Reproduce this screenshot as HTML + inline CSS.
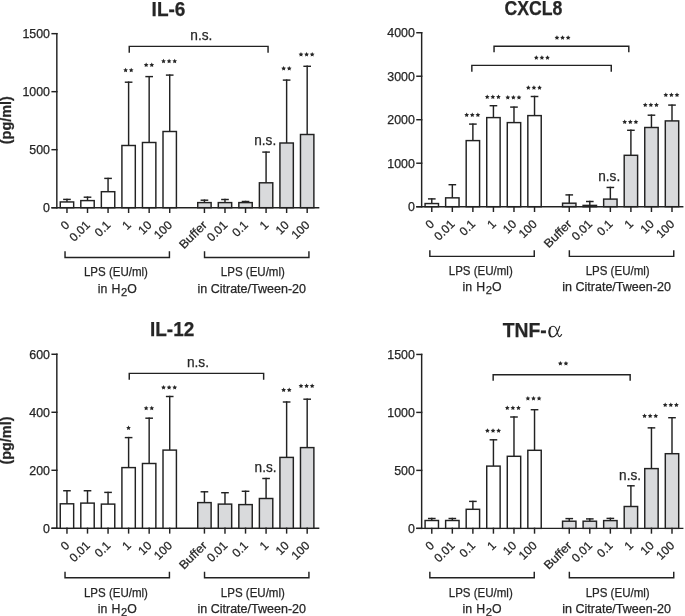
<!DOCTYPE html>
<html><head><meta charset="utf-8"><style>
html,body{margin:0;padding:0;background:#fff;}
svg{display:block;will-change:transform;}
text{font-family:"Liberation Sans", sans-serif;fill:#262626;stroke:#262626;stroke-width:0.25px;}
</style></head><body>
<svg width="685" height="616" viewBox="0 0 685 616">
<rect width="685" height="616" fill="#fff"/>
<text x="168.5" y="16.1" font-size="20" text-anchor="middle" font-weight="bold" textLength="33.8" lengthAdjust="spacingAndGlyphs">IL-6</text>
<text x="0" y="0" font-size="13.8" font-weight="bold" text-anchor="middle" textLength="48" lengthAdjust="spacingAndGlyphs" transform="translate(11.2,120.2) rotate(-90)">(pg/ml)</text>
<text x="50.03" y="212.2" font-size="12.2" text-anchor="end" textLength="6.9" lengthAdjust="spacingAndGlyphs">0</text>
<text x="50.03" y="154.19" font-size="12.2" text-anchor="end" textLength="20.7" lengthAdjust="spacingAndGlyphs">500</text>
<text x="50.03" y="96.17" font-size="12.2" text-anchor="end" textLength="27.6" lengthAdjust="spacingAndGlyphs">1000</text>
<text x="50.03" y="38.16" font-size="12.2" text-anchor="end" textLength="27.6" lengthAdjust="spacingAndGlyphs">1500</text>
<text x="0" y="0" font-size="12" text-anchor="end" transform="translate(70.16,225.7) rotate(-45)">0</text>
<text x="0" y="0" font-size="12" text-anchor="end" transform="translate(90.71,225.7) rotate(-45)">0.01</text>
<text x="0" y="0" font-size="12" text-anchor="end" transform="translate(111.26,225.7) rotate(-45)">0.1</text>
<text x="0" y="0" font-size="12" text-anchor="end" transform="translate(131.81,225.7) rotate(-45)">1</text>
<text x="0" y="0" font-size="12" text-anchor="end" transform="translate(152.36,225.7) rotate(-45)">10</text>
<text x="0" y="0" font-size="12" text-anchor="end" transform="translate(172.91,225.7) rotate(-45)">100</text>
<text x="0" y="0" font-size="12" text-anchor="end" textLength="33.6" lengthAdjust="spacingAndGlyphs" transform="translate(207.63,225.7) rotate(-45)">Buffer</text>
<text x="0" y="0" font-size="12" text-anchor="end" transform="translate(228.18,225.7) rotate(-45)">0.01</text>
<text x="0" y="0" font-size="12" text-anchor="end" transform="translate(248.73,225.7) rotate(-45)">0.1</text>
<text x="0" y="0" font-size="12" text-anchor="end" transform="translate(269.28,225.7) rotate(-45)">1</text>
<text x="0" y="0" font-size="12" text-anchor="end" transform="translate(289.83,225.7) rotate(-45)">10</text>
<text x="0" y="0" font-size="12" text-anchor="end" transform="translate(310.38,225.7) rotate(-45)">100</text>
<text x="254.3" y="144.7" font-size="13.8" textLength="21.9" lengthAdjust="spacingAndGlyphs">n.s.</text>
<text x="201.4" y="39.7" font-size="14" text-anchor="middle" textLength="22.1" lengthAdjust="spacingAndGlyphs">n.s.</text>
<text x="115.93" y="276.2" font-size="12.3" text-anchor="middle" textLength="64" lengthAdjust="spacingAndGlyphs">LPS (EU/ml)</text>
<text x="97.78" y="292.5" font-size="12.3">in</text>
<text x="111.43" y="292.5" font-size="12.3">H</text>
<text x="120.93" y="295.5" font-size="11.2">2</text>
<text x="127.23" y="292.5" font-size="12.3">O</text>
<text x="252.83" y="276.2" font-size="12.3" text-anchor="middle" textLength="64" lengthAdjust="spacingAndGlyphs">LPS (EU/ml)</text>
<text x="251.73" y="292.5" font-size="12.3" text-anchor="middle" textLength="108.6" lengthAdjust="spacingAndGlyphs">in Citrate/Tween-20</text>
<g stroke="#222222" stroke-width="1.45" fill="none" stroke-linecap="square">
<line x1="56.83" y1="33.66" x2="56.83" y2="207.7"/>
<line x1="52.13" y1="207.7" x2="56.83" y2="207.7"/>
<line x1="52.13" y1="149.69" x2="56.83" y2="149.69"/>
<line x1="52.13" y1="91.67" x2="56.83" y2="91.67"/>
<line x1="52.13" y1="33.66" x2="56.83" y2="33.66"/>
<line x1="52.13" y1="207.7" x2="318.6" y2="207.7"/>
<line x1="66.96" y1="199.4" x2="66.96" y2="201.95"/>
<line x1="63.86" y1="199.4" x2="70.06" y2="199.4"/>
<rect x="60.26" y="201.95" width="13.4" height="5.75" fill="#ffffff"/>
<line x1="66.96" y1="207.7" x2="66.96" y2="212.3"/>
<line x1="87.51" y1="197.2" x2="87.51" y2="200.6"/>
<line x1="84.41" y1="197.2" x2="90.61" y2="197.2"/>
<rect x="80.81" y="200.6" width="13.4" height="7.1" fill="#ffffff"/>
<line x1="87.51" y1="207.7" x2="87.51" y2="212.3"/>
<line x1="108.06" y1="178.4" x2="108.06" y2="191.7"/>
<line x1="104.96" y1="178.4" x2="111.16" y2="178.4"/>
<rect x="101.36" y="191.7" width="13.4" height="16" fill="#ffffff"/>
<line x1="108.06" y1="207.7" x2="108.06" y2="212.3"/>
<line x1="128.61" y1="82.2" x2="128.61" y2="145.5"/>
<line x1="125.51" y1="82.2" x2="131.71" y2="82.2"/>
<rect x="121.91" y="145.5" width="13.4" height="62.2" fill="#ffffff"/>
<line x1="128.61" y1="207.7" x2="128.61" y2="212.3"/>
<line x1="149.16" y1="76.6" x2="149.16" y2="142.5"/>
<line x1="146.06" y1="76.6" x2="152.26" y2="76.6"/>
<rect x="142.46" y="142.5" width="13.4" height="65.2" fill="#ffffff"/>
<line x1="149.16" y1="207.7" x2="149.16" y2="212.3"/>
<line x1="169.71" y1="75.1" x2="169.71" y2="131.5"/>
<line x1="166.61" y1="75.1" x2="172.81" y2="75.1"/>
<rect x="163.01" y="131.5" width="13.4" height="76.2" fill="#ffffff"/>
<line x1="169.71" y1="207.7" x2="169.71" y2="212.3"/>
<line x1="204.43" y1="200.2" x2="204.43" y2="202.6"/>
<line x1="201.33" y1="200.2" x2="207.53" y2="200.2"/>
<rect x="197.73" y="202.6" width="13.4" height="5.1" fill="#d9dadc"/>
<line x1="204.43" y1="207.7" x2="204.43" y2="212.3"/>
<line x1="224.98" y1="199.5" x2="224.98" y2="202.6"/>
<line x1="221.88" y1="199.5" x2="228.08" y2="199.5"/>
<rect x="218.28" y="202.6" width="13.4" height="5.1" fill="#d9dadc"/>
<line x1="224.98" y1="207.7" x2="224.98" y2="212.3"/>
<line x1="245.53" y1="201.5" x2="245.53" y2="202.6"/>
<line x1="242.43" y1="201.5" x2="248.63" y2="201.5"/>
<rect x="238.83" y="202.6" width="13.4" height="5.1" fill="#d9dadc"/>
<line x1="245.53" y1="207.7" x2="245.53" y2="212.3"/>
<line x1="266.08" y1="152.1" x2="266.08" y2="182.8"/>
<line x1="262.98" y1="152.1" x2="269.18" y2="152.1"/>
<rect x="259.38" y="182.8" width="13.4" height="24.9" fill="#d9dadc"/>
<line x1="266.08" y1="207.7" x2="266.08" y2="212.3"/>
<line x1="286.63" y1="80.1" x2="286.63" y2="143"/>
<line x1="283.53" y1="80.1" x2="289.73" y2="80.1"/>
<rect x="279.93" y="143" width="13.4" height="64.7" fill="#d9dadc"/>
<line x1="286.63" y1="207.7" x2="286.63" y2="212.3"/>
<line x1="307.18" y1="66.3" x2="307.18" y2="134.5"/>
<line x1="304.08" y1="66.3" x2="310.28" y2="66.3"/>
<rect x="300.48" y="134.5" width="13.4" height="73.2" fill="#d9dadc"/>
<line x1="307.18" y1="207.7" x2="307.18" y2="212.3"/>
<polyline points="129.25,52.1 129.25,46.38 268.06,46.38 268.06,52.1" fill="none"/>
<polyline points="65.03,252 65.03,257.4 169.43,257.4 169.43,252" fill="none"/>
<polyline points="204.53,252 204.53,257.4 308.93,257.4 308.93,252" fill="none"/>
</g>
<g fill="#262626">
<polygon points="125.61,67.7 126.34,69.19 127.99,69.43 126.8,70.59 127.08,72.22 125.61,71.45 124.14,72.22 124.42,70.59 123.23,69.43 124.88,69.19"/>
<polygon points="131.21,67.7 131.94,69.19 133.59,69.43 132.4,70.59 132.68,72.22 131.21,71.45 129.74,72.22 130.02,70.59 128.83,69.43 130.48,69.19"/>
<polygon points="146.16,62.6 146.89,64.09 148.54,64.33 147.35,65.49 147.63,67.12 146.16,66.35 144.69,67.12 144.97,65.49 143.78,64.33 145.43,64.09"/>
<polygon points="151.76,62.6 152.49,64.09 154.14,64.33 152.95,65.49 153.23,67.12 151.76,66.35 150.29,67.12 150.57,65.49 149.38,64.33 151.03,64.09"/>
<polygon points="163.51,58.7 164.24,60.19 165.89,60.43 164.7,61.59 164.98,63.22 163.51,62.45 162.04,63.22 162.32,61.59 161.13,60.43 162.78,60.19"/>
<polygon points="169.11,58.7 169.84,60.19 171.49,60.43 170.3,61.59 170.58,63.22 169.11,62.45 167.64,63.22 167.92,61.59 166.73,60.43 168.38,60.19"/>
<polygon points="174.71,58.7 175.44,60.19 177.09,60.43 175.9,61.59 176.18,63.22 174.71,62.45 173.24,63.22 173.52,61.59 172.33,60.43 173.98,60.19"/>
<polygon points="283.63,66.1 284.36,67.59 286.01,67.83 284.82,68.99 285.1,70.62 283.63,69.85 282.16,70.62 282.44,68.99 281.25,67.83 282.9,67.59"/>
<polygon points="289.23,66.1 289.96,67.59 291.61,67.83 290.42,68.99 290.7,70.62 289.23,69.85 287.76,70.62 288.04,68.99 286.85,67.83 288.5,67.59"/>
<polygon points="300.98,52 301.71,53.49 303.36,53.73 302.17,54.89 302.45,56.52 300.98,55.75 299.51,56.52 299.79,54.89 298.6,53.73 300.25,53.49"/>
<polygon points="306.58,52 307.31,53.49 308.96,53.73 307.77,54.89 308.05,56.52 306.58,55.75 305.11,56.52 305.39,54.89 304.2,53.73 305.85,53.49"/>
<polygon points="312.18,52 312.91,53.49 314.56,53.73 313.37,54.89 313.65,56.52 312.18,55.75 310.71,56.52 310.99,54.89 309.8,53.73 311.45,53.49"/>
</g>
<text x="533.45" y="15" font-size="20" text-anchor="middle" font-weight="bold" textLength="57.9" lengthAdjust="spacingAndGlyphs">CXCL8</text>
<text x="414.85" y="211.2" font-size="12.2" text-anchor="end" textLength="6.9" lengthAdjust="spacingAndGlyphs">0</text>
<text x="414.85" y="167.71" font-size="12.2" text-anchor="end" textLength="27.6" lengthAdjust="spacingAndGlyphs">1000</text>
<text x="414.85" y="124.22" font-size="12.2" text-anchor="end" textLength="27.6" lengthAdjust="spacingAndGlyphs">2000</text>
<text x="414.85" y="80.73" font-size="12.2" text-anchor="end" textLength="27.6" lengthAdjust="spacingAndGlyphs">3000</text>
<text x="414.85" y="37.24" font-size="12.2" text-anchor="end" textLength="27.6" lengthAdjust="spacingAndGlyphs">4000</text>
<text x="0" y="0" font-size="12" text-anchor="end" transform="translate(434.98,224.7) rotate(-45)">0</text>
<text x="0" y="0" font-size="12" text-anchor="end" transform="translate(455.53,224.7) rotate(-45)">0.01</text>
<text x="0" y="0" font-size="12" text-anchor="end" transform="translate(476.08,224.7) rotate(-45)">0.1</text>
<text x="0" y="0" font-size="12" text-anchor="end" transform="translate(496.63,224.7) rotate(-45)">1</text>
<text x="0" y="0" font-size="12" text-anchor="end" transform="translate(517.18,224.7) rotate(-45)">10</text>
<text x="0" y="0" font-size="12" text-anchor="end" transform="translate(537.73,224.7) rotate(-45)">100</text>
<text x="0" y="0" font-size="12" text-anchor="end" textLength="33.6" lengthAdjust="spacingAndGlyphs" transform="translate(572.45,224.7) rotate(-45)">Buffer</text>
<text x="0" y="0" font-size="12" text-anchor="end" transform="translate(593,224.7) rotate(-45)">0.01</text>
<text x="0" y="0" font-size="12" text-anchor="end" transform="translate(613.55,224.7) rotate(-45)">0.1</text>
<text x="0" y="0" font-size="12" text-anchor="end" transform="translate(634.1,224.7) rotate(-45)">1</text>
<text x="0" y="0" font-size="12" text-anchor="end" transform="translate(654.65,224.7) rotate(-45)">10</text>
<text x="0" y="0" font-size="12" text-anchor="end" transform="translate(675.2,224.7) rotate(-45)">100</text>
<text x="598.3" y="180.7" font-size="13.8" textLength="21.9" lengthAdjust="spacingAndGlyphs">n.s.</text>
<text x="480.75" y="275.16" font-size="12.3" text-anchor="middle" textLength="64" lengthAdjust="spacingAndGlyphs">LPS (EU/ml)</text>
<text x="462.6" y="291.46" font-size="12.3">in</text>
<text x="476.25" y="291.46" font-size="12.3">H</text>
<text x="485.75" y="294.46" font-size="11.2">2</text>
<text x="492.05" y="291.46" font-size="12.3">O</text>
<text x="617.65" y="275.16" font-size="12.3" text-anchor="middle" textLength="64" lengthAdjust="spacingAndGlyphs">LPS (EU/ml)</text>
<text x="616.55" y="291.46" font-size="12.3" text-anchor="middle" textLength="108.6" lengthAdjust="spacingAndGlyphs">in Citrate/Tween-20</text>
<g stroke="#222222" stroke-width="1.45" fill="none" stroke-linecap="square">
<line x1="421.65" y1="32.74" x2="421.65" y2="206.7"/>
<line x1="416.95" y1="206.7" x2="421.65" y2="206.7"/>
<line x1="416.95" y1="163.21" x2="421.65" y2="163.21"/>
<line x1="416.95" y1="119.72" x2="421.65" y2="119.72"/>
<line x1="416.95" y1="76.23" x2="421.65" y2="76.23"/>
<line x1="416.95" y1="32.74" x2="421.65" y2="32.74"/>
<line x1="416.95" y1="206.7" x2="682.7" y2="206.7"/>
<line x1="431.78" y1="198.9" x2="431.78" y2="203.55"/>
<line x1="428.68" y1="198.9" x2="434.88" y2="198.9"/>
<rect x="425.08" y="203.55" width="13.4" height="3.15" fill="#ffffff"/>
<line x1="431.78" y1="206.7" x2="431.78" y2="211.3"/>
<line x1="452.33" y1="184.7" x2="452.33" y2="197.85"/>
<line x1="449.23" y1="184.7" x2="455.43" y2="184.7"/>
<rect x="445.63" y="197.85" width="13.4" height="8.85" fill="#ffffff"/>
<line x1="452.33" y1="206.7" x2="452.33" y2="211.3"/>
<line x1="472.88" y1="124.1" x2="472.88" y2="140.6"/>
<line x1="469.78" y1="124.1" x2="475.98" y2="124.1"/>
<rect x="466.18" y="140.6" width="13.4" height="66.1" fill="#ffffff"/>
<line x1="472.88" y1="206.7" x2="472.88" y2="211.3"/>
<line x1="493.43" y1="105.7" x2="493.43" y2="117.6"/>
<line x1="490.33" y1="105.7" x2="496.53" y2="105.7"/>
<rect x="486.73" y="117.6" width="13.4" height="89.1" fill="#ffffff"/>
<line x1="493.43" y1="206.7" x2="493.43" y2="211.3"/>
<line x1="513.98" y1="107.1" x2="513.98" y2="122.6"/>
<line x1="510.88" y1="107.1" x2="517.08" y2="107.1"/>
<rect x="507.28" y="122.6" width="13.4" height="84.1" fill="#ffffff"/>
<line x1="513.98" y1="206.7" x2="513.98" y2="211.3"/>
<line x1="534.53" y1="96.5" x2="534.53" y2="115.6"/>
<line x1="531.43" y1="96.5" x2="537.63" y2="96.5"/>
<rect x="527.83" y="115.6" width="13.4" height="91.1" fill="#ffffff"/>
<line x1="534.53" y1="206.7" x2="534.53" y2="211.3"/>
<line x1="569.25" y1="194.9" x2="569.25" y2="203.2"/>
<line x1="566.15" y1="194.9" x2="572.35" y2="194.9"/>
<rect x="562.55" y="203.2" width="13.4" height="3.5" fill="#d9dadc"/>
<line x1="569.25" y1="206.7" x2="569.25" y2="211.3"/>
<line x1="589.8" y1="201.5" x2="589.8" y2="205.4"/>
<line x1="586.7" y1="201.5" x2="592.9" y2="201.5"/>
<rect x="583.1" y="205.4" width="13.4" height="1.3" fill="#d9dadc"/>
<line x1="589.8" y1="206.7" x2="589.8" y2="211.3"/>
<line x1="610.35" y1="187.45" x2="610.35" y2="199.1"/>
<line x1="607.25" y1="187.45" x2="613.45" y2="187.45"/>
<rect x="603.65" y="199.1" width="13.4" height="7.6" fill="#d9dadc"/>
<line x1="610.35" y1="206.7" x2="610.35" y2="211.3"/>
<line x1="630.9" y1="130.3" x2="630.9" y2="155.3"/>
<line x1="627.8" y1="130.3" x2="634" y2="130.3"/>
<rect x="624.2" y="155.3" width="13.4" height="51.4" fill="#d9dadc"/>
<line x1="630.9" y1="206.7" x2="630.9" y2="211.3"/>
<line x1="651.45" y1="115.2" x2="651.45" y2="127.5"/>
<line x1="648.35" y1="115.2" x2="654.55" y2="115.2"/>
<rect x="644.75" y="127.5" width="13.4" height="79.2" fill="#d9dadc"/>
<line x1="651.45" y1="206.7" x2="651.45" y2="211.3"/>
<line x1="672" y1="105.1" x2="672" y2="120.9"/>
<line x1="668.9" y1="105.1" x2="675.1" y2="105.1"/>
<rect x="665.3" y="120.9" width="13.4" height="85.8" fill="#d9dadc"/>
<line x1="672" y1="206.7" x2="672" y2="211.3"/>
<polyline points="494.05,51.45 494.05,46.2 628.8,46.2 628.8,51.45" fill="none"/>
<polyline points="471.84,71.06 471.84,65.35 611.26,65.35 611.26,71.06" fill="none"/>
<polyline points="429.85,250.96 429.85,256.36 534.25,256.36 534.25,250.96" fill="none"/>
<polyline points="569.35,250.96 569.35,256.36 673.75,256.36 673.75,250.96" fill="none"/>
</g>
<g fill="#262626">
<polygon points="466.68,112.6 467.41,114.09 469.06,114.33 467.87,115.49 468.15,117.12 466.68,116.35 465.21,117.12 465.49,115.49 464.3,114.33 465.95,114.09"/>
<polygon points="472.28,112.6 473.01,114.09 474.66,114.33 473.47,115.49 473.75,117.12 472.28,116.35 470.81,117.12 471.09,115.49 469.9,114.33 471.55,114.09"/>
<polygon points="477.88,112.6 478.61,114.09 480.26,114.33 479.07,115.49 479.35,117.12 477.88,116.35 476.41,117.12 476.69,115.49 475.5,114.33 477.15,114.09"/>
<polygon points="487.23,94.4 487.96,95.89 489.61,96.13 488.42,97.29 488.7,98.92 487.23,98.15 485.76,98.92 486.04,97.29 484.85,96.13 486.5,95.89"/>
<polygon points="492.83,94.4 493.56,95.89 495.21,96.13 494.02,97.29 494.3,98.92 492.83,98.15 491.36,98.92 491.64,97.29 490.45,96.13 492.1,95.89"/>
<polygon points="498.43,94.4 499.16,95.89 500.81,96.13 499.62,97.29 499.9,98.92 498.43,98.15 496.96,98.92 497.24,97.29 496.05,96.13 497.7,95.89"/>
<polygon points="507.78,95.1 508.51,96.59 510.16,96.83 508.97,97.99 509.25,99.62 507.78,98.85 506.31,99.62 506.59,97.99 505.4,96.83 507.05,96.59"/>
<polygon points="513.38,95.1 514.11,96.59 515.76,96.83 514.57,97.99 514.85,99.62 513.38,98.85 511.91,99.62 512.19,97.99 511,96.83 512.65,96.59"/>
<polygon points="518.98,95.1 519.71,96.59 521.36,96.83 520.17,97.99 520.45,99.62 518.98,98.85 517.51,99.62 517.79,97.99 516.6,96.83 518.25,96.59"/>
<polygon points="528.33,85.2 529.06,86.69 530.71,86.93 529.52,88.09 529.8,89.72 528.33,88.95 526.86,89.72 527.14,88.09 525.95,86.93 527.6,86.69"/>
<polygon points="533.93,85.2 534.66,86.69 536.31,86.93 535.12,88.09 535.4,89.72 533.93,88.95 532.46,89.72 532.74,88.09 531.55,86.93 533.2,86.69"/>
<polygon points="539.53,85.2 540.26,86.69 541.91,86.93 540.72,88.09 541,89.72 539.53,88.95 538.06,89.72 538.34,88.09 537.15,86.93 538.8,86.69"/>
<polygon points="624.7,119.5 625.43,120.99 627.08,121.23 625.89,122.39 626.17,124.02 624.7,123.25 623.23,124.02 623.51,122.39 622.32,121.23 623.97,120.99"/>
<polygon points="630.3,119.5 631.03,120.99 632.68,121.23 631.49,122.39 631.77,124.02 630.3,123.25 628.83,124.02 629.11,122.39 627.92,121.23 629.57,120.99"/>
<polygon points="635.9,119.5 636.63,120.99 638.28,121.23 637.09,122.39 637.37,124.02 635.9,123.25 634.43,124.02 634.71,122.39 633.52,121.23 635.17,120.99"/>
<polygon points="645.25,102.6 645.98,104.09 647.63,104.33 646.44,105.49 646.72,107.12 645.25,106.35 643.78,107.12 644.06,105.49 642.87,104.33 644.52,104.09"/>
<polygon points="650.85,102.6 651.58,104.09 653.23,104.33 652.04,105.49 652.32,107.12 650.85,106.35 649.38,107.12 649.66,105.49 648.47,104.33 650.12,104.09"/>
<polygon points="656.45,102.6 657.18,104.09 658.83,104.33 657.64,105.49 657.92,107.12 656.45,106.35 654.98,107.12 655.26,105.49 654.07,104.33 655.72,104.09"/>
<polygon points="665.8,92.6 666.53,94.09 668.18,94.33 666.99,95.49 667.27,97.12 665.8,96.35 664.33,97.12 664.61,95.49 663.42,94.33 665.07,94.09"/>
<polygon points="671.4,92.6 672.13,94.09 673.78,94.33 672.59,95.49 672.87,97.12 671.4,96.35 669.93,97.12 670.21,95.49 669.02,94.33 670.67,94.09"/>
<polygon points="677,92.6 677.73,94.09 679.38,94.33 678.19,95.49 678.47,97.12 677,96.35 675.53,97.12 675.81,95.49 674.62,94.33 676.27,94.09"/>
<polygon points="556.95,35.35 557.68,36.84 559.33,37.08 558.14,38.24 558.42,39.87 556.95,39.1 555.48,39.87 555.76,38.24 554.57,37.08 556.22,36.84"/>
<polygon points="562.55,35.35 563.28,36.84 564.93,37.08 563.74,38.24 564.02,39.87 562.55,39.1 561.08,39.87 561.36,38.24 560.17,37.08 561.82,36.84"/>
<polygon points="568.15,35.35 568.88,36.84 570.53,37.08 569.34,38.24 569.62,39.87 568.15,39.1 566.68,39.87 566.96,38.24 565.77,37.08 567.42,36.84"/>
<polygon points="536.3,55.2 537.03,56.69 538.68,56.93 537.49,58.09 537.77,59.72 536.3,58.95 534.83,59.72 535.11,58.09 533.92,56.93 535.57,56.69"/>
<polygon points="541.9,55.2 542.63,56.69 544.28,56.93 543.09,58.09 543.37,59.72 541.9,58.95 540.43,59.72 540.71,58.09 539.52,56.93 541.17,56.69"/>
<polygon points="547.5,55.2 548.23,56.69 549.88,56.93 548.69,58.09 548.97,59.72 547.5,58.95 546.03,59.72 546.31,58.09 545.12,56.93 546.77,56.69"/>
</g>
<text x="172.15" y="336.3" font-size="20" text-anchor="middle" font-weight="bold" textLength="44.3" lengthAdjust="spacingAndGlyphs">IL-12</text>
<text x="0" y="0" font-size="13.8" font-weight="bold" text-anchor="middle" textLength="48" lengthAdjust="spacingAndGlyphs" transform="translate(11.2,440.55) rotate(-90)">(pg/ml)</text>
<text x="50.03" y="532.8" font-size="12.2" text-anchor="end" textLength="6.9" lengthAdjust="spacingAndGlyphs">0</text>
<text x="50.03" y="474.79" font-size="12.2" text-anchor="end" textLength="20.7" lengthAdjust="spacingAndGlyphs">200</text>
<text x="50.03" y="416.77" font-size="12.2" text-anchor="end" textLength="20.7" lengthAdjust="spacingAndGlyphs">400</text>
<text x="50.03" y="358.76" font-size="12.2" text-anchor="end" textLength="20.7" lengthAdjust="spacingAndGlyphs">600</text>
<text x="0" y="0" font-size="12" text-anchor="end" transform="translate(70.16,546.3) rotate(-45)">0</text>
<text x="0" y="0" font-size="12" text-anchor="end" transform="translate(90.71,546.3) rotate(-45)">0.01</text>
<text x="0" y="0" font-size="12" text-anchor="end" transform="translate(111.26,546.3) rotate(-45)">0.1</text>
<text x="0" y="0" font-size="12" text-anchor="end" transform="translate(131.81,546.3) rotate(-45)">1</text>
<text x="0" y="0" font-size="12" text-anchor="end" transform="translate(152.36,546.3) rotate(-45)">10</text>
<text x="0" y="0" font-size="12" text-anchor="end" transform="translate(172.91,546.3) rotate(-45)">100</text>
<text x="0" y="0" font-size="12" text-anchor="end" textLength="33.6" lengthAdjust="spacingAndGlyphs" transform="translate(207.63,546.3) rotate(-45)">Buffer</text>
<text x="0" y="0" font-size="12" text-anchor="end" transform="translate(228.18,546.3) rotate(-45)">0.01</text>
<text x="0" y="0" font-size="12" text-anchor="end" transform="translate(248.73,546.3) rotate(-45)">0.1</text>
<text x="0" y="0" font-size="12" text-anchor="end" transform="translate(269.28,546.3) rotate(-45)">1</text>
<text x="0" y="0" font-size="12" text-anchor="end" transform="translate(289.83,546.3) rotate(-45)">10</text>
<text x="0" y="0" font-size="12" text-anchor="end" transform="translate(310.38,546.3) rotate(-45)">100</text>
<text x="254.6" y="472" font-size="13.8" textLength="21.9" lengthAdjust="spacingAndGlyphs">n.s.</text>
<text x="198" y="366.7" font-size="14" text-anchor="middle" textLength="22.1" lengthAdjust="spacingAndGlyphs">n.s.</text>
<text x="115.93" y="596.6" font-size="12.3" text-anchor="middle" textLength="64" lengthAdjust="spacingAndGlyphs">LPS (EU/ml)</text>
<text x="97.78" y="612.9" font-size="12.3">in</text>
<text x="111.43" y="612.9" font-size="12.3">H</text>
<text x="120.93" y="615.9" font-size="11.2">2</text>
<text x="127.23" y="612.9" font-size="12.3">O</text>
<text x="252.83" y="596.6" font-size="12.3" text-anchor="middle" textLength="64" lengthAdjust="spacingAndGlyphs">LPS (EU/ml)</text>
<text x="251.73" y="612.9" font-size="12.3" text-anchor="middle" textLength="108.6" lengthAdjust="spacingAndGlyphs">in Citrate/Tween-20</text>
<g stroke="#222222" stroke-width="1.45" fill="none" stroke-linecap="square">
<line x1="56.83" y1="354.26" x2="56.83" y2="528.3"/>
<line x1="52.13" y1="528.3" x2="56.83" y2="528.3"/>
<line x1="52.13" y1="470.29" x2="56.83" y2="470.29"/>
<line x1="52.13" y1="412.27" x2="56.83" y2="412.27"/>
<line x1="52.13" y1="354.26" x2="56.83" y2="354.26"/>
<line x1="52.13" y1="528.3" x2="318.6" y2="528.3"/>
<line x1="66.96" y1="490.75" x2="66.96" y2="503.8"/>
<line x1="63.86" y1="490.75" x2="70.06" y2="490.75"/>
<rect x="60.26" y="503.8" width="13.4" height="24.5" fill="#ffffff"/>
<line x1="66.96" y1="528.3" x2="66.96" y2="532.9"/>
<line x1="87.51" y1="490.75" x2="87.51" y2="503.1"/>
<line x1="84.41" y1="490.75" x2="90.61" y2="490.75"/>
<rect x="80.81" y="503.1" width="13.4" height="25.2" fill="#ffffff"/>
<line x1="87.51" y1="528.3" x2="87.51" y2="532.9"/>
<line x1="108.06" y1="492.4" x2="108.06" y2="504.1"/>
<line x1="104.96" y1="492.4" x2="111.16" y2="492.4"/>
<rect x="101.36" y="504.1" width="13.4" height="24.2" fill="#ffffff"/>
<line x1="108.06" y1="528.3" x2="108.06" y2="532.9"/>
<line x1="128.61" y1="437.6" x2="128.61" y2="467.6"/>
<line x1="125.51" y1="437.6" x2="131.71" y2="437.6"/>
<rect x="121.91" y="467.6" width="13.4" height="60.7" fill="#ffffff"/>
<line x1="128.61" y1="528.3" x2="128.61" y2="532.9"/>
<line x1="149.16" y1="418.2" x2="149.16" y2="463.5"/>
<line x1="146.06" y1="418.2" x2="152.26" y2="418.2"/>
<rect x="142.46" y="463.5" width="13.4" height="64.8" fill="#ffffff"/>
<line x1="149.16" y1="528.3" x2="149.16" y2="532.9"/>
<line x1="169.71" y1="396.5" x2="169.71" y2="450.1"/>
<line x1="166.61" y1="396.5" x2="172.81" y2="396.5"/>
<rect x="163.01" y="450.1" width="13.4" height="78.2" fill="#ffffff"/>
<line x1="169.71" y1="528.3" x2="169.71" y2="532.9"/>
<line x1="204.43" y1="491.8" x2="204.43" y2="502.6"/>
<line x1="201.33" y1="491.8" x2="207.53" y2="491.8"/>
<rect x="197.73" y="502.6" width="13.4" height="25.7" fill="#d9dadc"/>
<line x1="204.43" y1="528.3" x2="204.43" y2="532.9"/>
<line x1="224.98" y1="492.7" x2="224.98" y2="504.1"/>
<line x1="221.88" y1="492.7" x2="228.08" y2="492.7"/>
<rect x="218.28" y="504.1" width="13.4" height="24.2" fill="#d9dadc"/>
<line x1="224.98" y1="528.3" x2="224.98" y2="532.9"/>
<line x1="245.53" y1="491.3" x2="245.53" y2="504.6"/>
<line x1="242.43" y1="491.3" x2="248.63" y2="491.3"/>
<rect x="238.83" y="504.6" width="13.4" height="23.7" fill="#d9dadc"/>
<line x1="245.53" y1="528.3" x2="245.53" y2="532.9"/>
<line x1="266.08" y1="478.5" x2="266.08" y2="498.5"/>
<line x1="262.98" y1="478.5" x2="269.18" y2="478.5"/>
<rect x="259.38" y="498.5" width="13.4" height="29.8" fill="#d9dadc"/>
<line x1="266.08" y1="528.3" x2="266.08" y2="532.9"/>
<line x1="286.63" y1="402" x2="286.63" y2="457.4"/>
<line x1="283.53" y1="402" x2="289.73" y2="402"/>
<rect x="279.93" y="457.4" width="13.4" height="70.9" fill="#d9dadc"/>
<line x1="286.63" y1="528.3" x2="286.63" y2="532.9"/>
<line x1="307.18" y1="399.2" x2="307.18" y2="447.6"/>
<line x1="304.08" y1="399.2" x2="310.28" y2="399.2"/>
<rect x="300.48" y="447.6" width="13.4" height="80.7" fill="#d9dadc"/>
<line x1="307.18" y1="528.3" x2="307.18" y2="532.9"/>
<polyline points="129.25,379 129.25,373.38 263.64,373.38 263.64,379" fill="none"/>
<polyline points="65.03,572.4 65.03,577.8 169.43,577.8 169.43,572.4" fill="none"/>
<polyline points="204.53,572.4 204.53,577.8 308.93,577.8 308.93,572.4" fill="none"/>
</g>
<g fill="#262626">
<polygon points="128.51,425.4 129.24,426.89 130.89,427.13 129.7,428.29 129.98,429.92 128.51,429.15 127.04,429.92 127.32,428.29 126.13,427.13 127.78,426.89"/>
<polygon points="146.16,405.7 146.89,407.19 148.54,407.43 147.35,408.59 147.63,410.22 146.16,409.45 144.69,410.22 144.97,408.59 143.78,407.43 145.43,407.19"/>
<polygon points="151.76,405.7 152.49,407.19 154.14,407.43 152.95,408.59 153.23,410.22 151.76,409.45 150.29,410.22 150.57,408.59 149.38,407.43 151.03,407.19"/>
<polygon points="163.51,385.1 164.24,386.59 165.89,386.83 164.7,387.99 164.98,389.62 163.51,388.85 162.04,389.62 162.32,387.99 161.13,386.83 162.78,386.59"/>
<polygon points="169.11,385.1 169.84,386.59 171.49,386.83 170.3,387.99 170.58,389.62 169.11,388.85 167.64,389.62 167.92,387.99 166.73,386.83 168.38,386.59"/>
<polygon points="174.71,385.1 175.44,386.59 177.09,386.83 175.9,387.99 176.18,389.62 174.71,388.85 173.24,389.62 173.52,387.99 172.33,386.83 173.98,386.59"/>
<polygon points="283.63,387.5 284.36,388.99 286.01,389.23 284.82,390.39 285.1,392.02 283.63,391.25 282.16,392.02 282.44,390.39 281.25,389.23 282.9,388.99"/>
<polygon points="289.23,387.5 289.96,388.99 291.61,389.23 290.42,390.39 290.7,392.02 289.23,391.25 287.76,392.02 288.04,390.39 286.85,389.23 288.5,388.99"/>
<polygon points="300.98,383.5 301.71,384.99 303.36,385.23 302.17,386.39 302.45,388.02 300.98,387.25 299.51,388.02 299.79,386.39 298.6,385.23 300.25,384.99"/>
<polygon points="306.58,383.5 307.31,384.99 308.96,385.23 307.77,386.39 308.05,388.02 306.58,387.25 305.11,388.02 305.39,386.39 304.2,385.23 305.85,384.99"/>
<polygon points="312.18,383.5 312.91,384.99 314.56,385.23 313.37,386.39 313.65,388.02 312.18,387.25 310.71,388.02 310.99,386.39 309.8,385.23 311.45,384.99"/>
</g>
<text x="502.8" y="337.0" font-size="20" font-weight="bold" textLength="44" lengthAdjust="spacingAndGlyphs">TNF-</text><g fill="none" stroke="#262626" stroke-linecap="round"><path d="M559.7 326.3 C558.7 329.5 557.3 333.1 555.7 335.1 C554.7 336.3 553.5 336.9 552.4 336.9 C550.2 336.9 548.9 334.7 548.9 331.7 C548.9 328.5 550.7 326.2 553.1 326.2 C555.5 326.2 556.6 328.6 557.3 332 C557.9 335 558.4 336.6 559.5 336.6 C560.4 336.6 561.1 335.6 561.6 334.5" stroke-width="1.15"/><path d="M550.5 327.8 C549.2 329.9 549.2 334.1 550.6 335.9" stroke-width="1.7"/></g>
<text x="414.85" y="532.86" font-size="12.2" text-anchor="end" textLength="6.9" lengthAdjust="spacingAndGlyphs">0</text>
<text x="414.85" y="474.89" font-size="12.2" text-anchor="end" textLength="20.7" lengthAdjust="spacingAndGlyphs">500</text>
<text x="414.85" y="416.91" font-size="12.2" text-anchor="end" textLength="27.6" lengthAdjust="spacingAndGlyphs">1000</text>
<text x="414.85" y="358.94" font-size="12.2" text-anchor="end" textLength="27.6" lengthAdjust="spacingAndGlyphs">1500</text>
<text x="0" y="0" font-size="12" text-anchor="end" transform="translate(434.98,546.36) rotate(-45)">0</text>
<text x="0" y="0" font-size="12" text-anchor="end" transform="translate(455.53,546.36) rotate(-45)">0.01</text>
<text x="0" y="0" font-size="12" text-anchor="end" transform="translate(476.08,546.36) rotate(-45)">0.1</text>
<text x="0" y="0" font-size="12" text-anchor="end" transform="translate(496.63,546.36) rotate(-45)">1</text>
<text x="0" y="0" font-size="12" text-anchor="end" transform="translate(517.18,546.36) rotate(-45)">10</text>
<text x="0" y="0" font-size="12" text-anchor="end" transform="translate(537.73,546.36) rotate(-45)">100</text>
<text x="0" y="0" font-size="12" text-anchor="end" textLength="33.6" lengthAdjust="spacingAndGlyphs" transform="translate(572.45,546.36) rotate(-45)">Buffer</text>
<text x="0" y="0" font-size="12" text-anchor="end" transform="translate(593,546.36) rotate(-45)">0.01</text>
<text x="0" y="0" font-size="12" text-anchor="end" transform="translate(613.55,546.36) rotate(-45)">0.1</text>
<text x="0" y="0" font-size="12" text-anchor="end" transform="translate(634.1,546.36) rotate(-45)">1</text>
<text x="0" y="0" font-size="12" text-anchor="end" transform="translate(654.65,546.36) rotate(-45)">10</text>
<text x="0" y="0" font-size="12" text-anchor="end" transform="translate(675.2,546.36) rotate(-45)">100</text>
<text x="619.1" y="479.5" font-size="13.8" textLength="21.9" lengthAdjust="spacingAndGlyphs">n.s.</text>
<text x="480.75" y="596.6" font-size="12.3" text-anchor="middle" textLength="64" lengthAdjust="spacingAndGlyphs">LPS (EU/ml)</text>
<text x="462.6" y="612.9" font-size="12.3">in</text>
<text x="476.25" y="612.9" font-size="12.3">H</text>
<text x="485.75" y="615.9" font-size="11.2">2</text>
<text x="492.05" y="612.9" font-size="12.3">O</text>
<text x="617.65" y="596.6" font-size="12.3" text-anchor="middle" textLength="64" lengthAdjust="spacingAndGlyphs">LPS (EU/ml)</text>
<text x="616.55" y="612.9" font-size="12.3" text-anchor="middle" textLength="108.6" lengthAdjust="spacingAndGlyphs">in Citrate/Tween-20</text>
<g stroke="#222222" stroke-width="1.45" fill="none" stroke-linecap="square">
<line x1="421.65" y1="354.44" x2="421.65" y2="528.36"/>
<line x1="416.95" y1="528.36" x2="421.65" y2="528.36"/>
<line x1="416.95" y1="470.39" x2="421.65" y2="470.39"/>
<line x1="416.95" y1="412.41" x2="421.65" y2="412.41"/>
<line x1="416.95" y1="354.44" x2="421.65" y2="354.44"/>
<line x1="416.95" y1="528.36" x2="682.7" y2="528.36"/>
<line x1="431.78" y1="518.5" x2="431.78" y2="520.5"/>
<line x1="428.68" y1="518.5" x2="434.88" y2="518.5"/>
<rect x="425.08" y="520.5" width="13.4" height="7.86" fill="#ffffff"/>
<line x1="431.78" y1="528.36" x2="431.78" y2="532.96"/>
<line x1="452.33" y1="518.5" x2="452.33" y2="520.5"/>
<line x1="449.23" y1="518.5" x2="455.43" y2="518.5"/>
<rect x="445.63" y="520.5" width="13.4" height="7.86" fill="#ffffff"/>
<line x1="452.33" y1="528.36" x2="452.33" y2="532.96"/>
<line x1="472.88" y1="501.4" x2="472.88" y2="509.3"/>
<line x1="469.78" y1="501.4" x2="475.98" y2="501.4"/>
<rect x="466.18" y="509.3" width="13.4" height="19.06" fill="#ffffff"/>
<line x1="472.88" y1="528.36" x2="472.88" y2="532.96"/>
<line x1="493.43" y1="439.8" x2="493.43" y2="466.1"/>
<line x1="490.33" y1="439.8" x2="496.53" y2="439.8"/>
<rect x="486.73" y="466.1" width="13.4" height="62.26" fill="#ffffff"/>
<line x1="493.43" y1="528.36" x2="493.43" y2="532.96"/>
<line x1="513.98" y1="417" x2="513.98" y2="456.3"/>
<line x1="510.88" y1="417" x2="517.08" y2="417"/>
<rect x="507.28" y="456.3" width="13.4" height="72.06" fill="#ffffff"/>
<line x1="513.98" y1="528.36" x2="513.98" y2="532.96"/>
<line x1="534.53" y1="409.7" x2="534.53" y2="450.3"/>
<line x1="531.43" y1="409.7" x2="537.63" y2="409.7"/>
<rect x="527.83" y="450.3" width="13.4" height="78.06" fill="#ffffff"/>
<line x1="534.53" y1="528.36" x2="534.53" y2="532.96"/>
<line x1="569.25" y1="518.6" x2="569.25" y2="521.2"/>
<line x1="566.15" y1="518.6" x2="572.35" y2="518.6"/>
<rect x="562.55" y="521.2" width="13.4" height="7.16" fill="#d9dadc"/>
<line x1="569.25" y1="528.36" x2="569.25" y2="532.96"/>
<line x1="589.8" y1="518.9" x2="589.8" y2="521.2"/>
<line x1="586.7" y1="518.9" x2="592.9" y2="518.9"/>
<rect x="583.1" y="521.2" width="13.4" height="7.16" fill="#d9dadc"/>
<line x1="589.8" y1="528.36" x2="589.8" y2="532.96"/>
<line x1="610.35" y1="518.4" x2="610.35" y2="520.6"/>
<line x1="607.25" y1="518.4" x2="613.45" y2="518.4"/>
<rect x="603.65" y="520.6" width="13.4" height="7.76" fill="#d9dadc"/>
<line x1="610.35" y1="528.36" x2="610.35" y2="532.96"/>
<line x1="630.9" y1="485.8" x2="630.9" y2="506.5"/>
<line x1="627.8" y1="485.8" x2="634" y2="485.8"/>
<rect x="624.2" y="506.5" width="13.4" height="21.86" fill="#d9dadc"/>
<line x1="630.9" y1="528.36" x2="630.9" y2="532.96"/>
<line x1="651.45" y1="427.86" x2="651.45" y2="468.6"/>
<line x1="648.35" y1="427.86" x2="654.55" y2="427.86"/>
<rect x="644.75" y="468.6" width="13.4" height="59.76" fill="#d9dadc"/>
<line x1="651.45" y1="528.36" x2="651.45" y2="532.96"/>
<line x1="672" y1="417.7" x2="672" y2="453.7"/>
<line x1="668.9" y1="417.7" x2="675.1" y2="417.7"/>
<rect x="665.3" y="453.7" width="13.4" height="74.66" fill="#d9dadc"/>
<line x1="672" y1="528.36" x2="672" y2="532.96"/>
<polyline points="493.16,380.1 493.16,374.73 630.15,374.73 630.15,380.1" fill="none"/>
<polyline points="429.85,572.4 429.85,577.8 534.25,577.8 534.25,572.4" fill="none"/>
<polyline points="569.35,572.4 569.35,577.8 673.75,577.8 673.75,572.4" fill="none"/>
</g>
<g fill="#262626">
<polygon points="487.43,428.3 488.16,429.79 489.81,430.03 488.62,431.19 488.9,432.82 487.43,432.05 485.96,432.82 486.24,431.19 485.05,430.03 486.7,429.79"/>
<polygon points="493.03,428.3 493.76,429.79 495.41,430.03 494.22,431.19 494.5,432.82 493.03,432.05 491.56,432.82 491.84,431.19 490.65,430.03 492.3,429.79"/>
<polygon points="498.63,428.3 499.36,429.79 501.01,430.03 499.82,431.19 500.1,432.82 498.63,432.05 497.16,432.82 497.44,431.19 496.25,430.03 497.9,429.79"/>
<polygon points="507.28,405.4 508.01,406.89 509.66,407.13 508.47,408.29 508.75,409.92 507.28,409.15 505.81,409.92 506.09,408.29 504.9,407.13 506.55,406.89"/>
<polygon points="512.88,405.4 513.61,406.89 515.26,407.13 514.07,408.29 514.35,409.92 512.88,409.15 511.41,409.92 511.69,408.29 510.5,407.13 512.15,406.89"/>
<polygon points="518.48,405.4 519.21,406.89 520.86,407.13 519.67,408.29 519.95,409.92 518.48,409.15 517.01,409.92 517.29,408.29 516.1,407.13 517.75,406.89"/>
<polygon points="527.88,395.9 528.61,397.39 530.26,397.63 529.07,398.79 529.35,400.42 527.88,399.65 526.41,400.42 526.69,398.79 525.5,397.63 527.15,397.39"/>
<polygon points="533.48,395.9 534.21,397.39 535.86,397.63 534.67,398.79 534.95,400.42 533.48,399.65 532.01,400.42 532.29,398.79 531.1,397.63 532.75,397.39"/>
<polygon points="539.08,395.9 539.81,397.39 541.46,397.63 540.27,398.79 540.55,400.42 539.08,399.65 537.61,400.42 537.89,398.79 536.7,397.63 538.35,397.39"/>
<polygon points="644.55,413.5 645.28,414.99 646.93,415.23 645.74,416.39 646.02,418.02 644.55,417.25 643.08,418.02 643.36,416.39 642.17,415.23 643.82,414.99"/>
<polygon points="650.15,413.5 650.88,414.99 652.53,415.23 651.34,416.39 651.62,418.02 650.15,417.25 648.68,418.02 648.96,416.39 647.77,415.23 649.42,414.99"/>
<polygon points="655.75,413.5 656.48,414.99 658.13,415.23 656.94,416.39 657.22,418.02 655.75,417.25 654.28,418.02 654.56,416.39 653.37,415.23 655.02,414.99"/>
<polygon points="665.2,402.6 665.93,404.09 667.58,404.33 666.39,405.49 666.67,407.12 665.2,406.35 663.73,407.12 664.01,405.49 662.82,404.33 664.47,404.09"/>
<polygon points="670.8,402.6 671.53,404.09 673.18,404.33 671.99,405.49 672.27,407.12 670.8,406.35 669.33,407.12 669.61,405.49 668.42,404.33 670.07,404.09"/>
<polygon points="676.4,402.6 677.13,404.09 678.78,404.33 677.59,405.49 677.87,407.12 676.4,406.35 674.93,407.12 675.21,405.49 674.02,404.33 675.67,404.09"/>
<polygon points="560.35,361 561.08,362.49 562.73,362.73 561.54,363.89 561.82,365.52 560.35,364.75 558.88,365.52 559.16,363.89 557.97,362.73 559.62,362.49"/>
<polygon points="565.95,361 566.68,362.49 568.33,362.73 567.14,363.89 567.42,365.52 565.95,364.75 564.48,365.52 564.76,363.89 563.57,362.73 565.22,362.49"/>
</g>
</svg>
</body></html>
